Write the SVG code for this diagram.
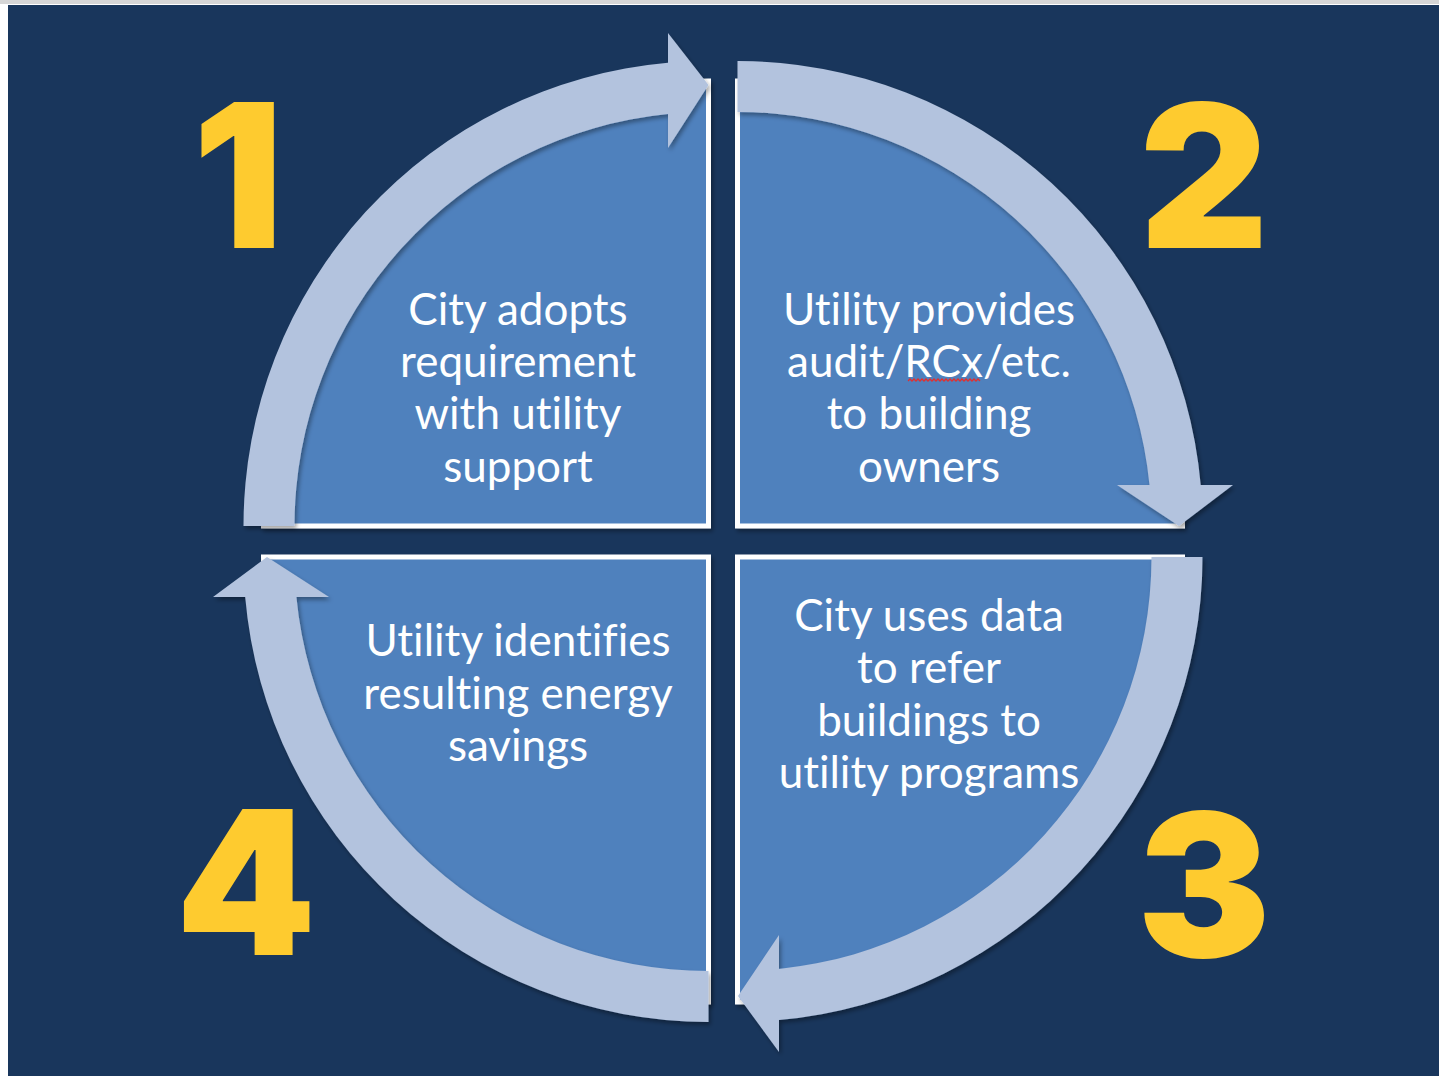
<svg xmlns="http://www.w3.org/2000/svg" width="1439" height="1076" viewBox="0 0 1439 1076">
<defs>
<style>
.bg{fill:#19365c}
.pie{fill:#4f81bd;stroke:#ffffff;stroke-width:5;stroke-linejoin:miter}
.band{fill:#b3c3de}
.num{font-family:Inter,"Liberation Sans",Arial,sans-serif;font-weight:900;font-size:200px;fill:#fecb2f;text-anchor:middle}
.lbl{font-family:Lato,"Open Sans",sans-serif;font-size:44px;fill:#ffffff;text-anchor:middle;font-variant-ligatures:none;font-feature-settings:"liga" 0,"clig" 0}
</style>
<filter id="sh" x="-10%" y="-10%" width="120%" height="120%">
<feDropShadow dx="2" dy="3" stdDeviation="2" flood-color="#000000" flood-opacity="0.35"/>
</filter>
</defs>
<rect x="0" y="0" width="1439" height="1076" fill="#ffffff"/>
<rect x="0" y="0" width="1439" height="4" fill="#d6d6d6"/>
<rect class="bg" x="8" y="5" width="1431" height="1071"/>

<g id="quadrant-1">
<path class="pie" filter="url(#sh)" d="M708.5,526 L263.5,526 A445,445 0 0 1 708.5,81 Z"/>
</g>
<g id="quadrant-2">
<path class="pie" filter="url(#sh)" d="M737.5,526 L737.5,81 A445,445 0 0 1 1182.5,526 Z"/>
</g>
<g id="quadrant-3">
<path class="pie" filter="url(#sh)" d="M737.5,557 L1182.5,557 A445,445 0 0 1 737.5,1002 Z"/>
</g>
<g id="quadrant-4">
<path class="pie" filter="url(#sh)" d="M708.5,557 L708.5,1002 A445,445 0 0 1 263.5,557 Z"/>
</g>

<g id="connectors">
<path class="band" filter="url(#sh)" d="M243.5,526 A465,465 0 0 1 668,62.8 L668,33 L708.5,85 L668,148 L668,114 A414,414 0 0 0 294.5,526 Z"/>
<path class="band" filter="url(#sh)" d="M737.5,61 A465,465 0 0 1 1200.7,485 L1233,485 L1179,526 L1117,485 L1149.5,485 A414,414 0 0 0 737.5,112 Z"/>
<path class="band" filter="url(#sh)" d="M1202.5,557 A465,465 0 0 1 779,1020.1 L779,1052 L738,996 L779,935 L779,968.9 A414,414 0 0 0 1151.5,557 Z"/>
<path class="band" filter="url(#sh)" d="M708.5,1022 A465,465 0 0 1 245.2,597 L213,597 L267,557 L329,597 L296.4,597 A414,414 0 0 0 708.5,971 Z"/>
</g>

<g id="label-1">
<text class="lbl" x="518" y="325">City adopts</text>
<text class="lbl" x="518" y="377">requirement</text>
<text class="lbl" x="518" y="429">with utility</text>
<text class="lbl" x="518" y="482">support</text>
</g>
<g id="label-2">
<text class="lbl" x="929" y="325">Utility provides</text>
<text class="lbl" x="929" y="377">audit/RCx/etc.</text>
<text class="lbl" x="929" y="429">to building</text>
<text class="lbl" x="929" y="482">owners</text>
<polyline fill="none" stroke="#e03030" stroke-width="1.3" points="908,381 910,379 912,381 914,379 916,381 918,379 920,381 922,379 924,381 926,379 928,381 930,379 932,381 934,379 936,381 938,379 940,381 942,379 944,381 946,379 948,381 950,379 952,381 954,379 956,381 958,379 960,381 962,379 964,381 966,379 968,381 970,379 972,381 974,379 976,381 978,379 980,381"/>
</g>
<g id="label-4">
<text class="lbl" x="518" y="656">Utility identifies</text>
<text class="lbl" x="518" y="709">resulting energy</text>
<text class="lbl" x="518" y="761">savings</text>
</g>
<g id="label-3">
<text class="lbl" x="929" y="631">City uses data</text>
<text class="lbl" x="929" y="683">to refer</text>
<text class="lbl" x="929" y="736">buildings to</text>
<text class="lbl" x="929" y="788">utility programs</text>
</g>

<g id="numbers">
<text class="num" x="238" y="248">1</text>
<text class="num" x="1204" y="248">2</text>
<text class="num" x="1204" y="957">3</text>
<text class="num" x="246" y="955">4</text>
</g>
</svg>
